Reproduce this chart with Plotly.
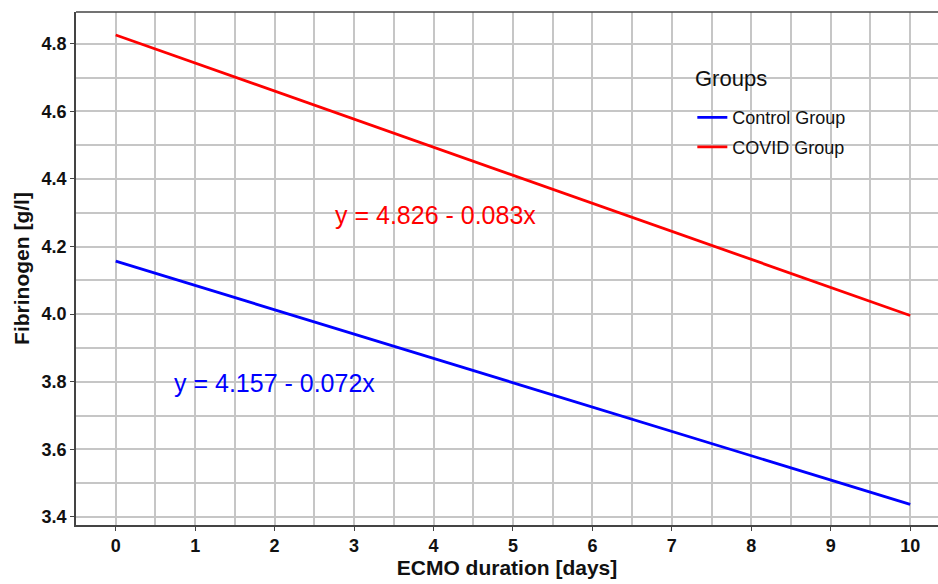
import plotly.graph_objects as go

days = [0, 10]
control_vals = [4.157, 3.437]
covid_vals = [4.826, 3.996]
series_names = ["Control Group", "COVID Group"]
legend_title = "Groups"
eq_labels = ["y = 4.157 - 0.072x", "y = 4.826 - 0.083x"]
eq_x = [2.0, 4.02]
eq_y = [3.797, 4.293]
x_ticks = list(range(0, 11))
y_ticks = [3.4, 3.6, 3.8, 4.0, 4.2, 4.4, 4.6, 4.8]

FONT = "Liberation Sans, Arial, sans-serif"
GRID = "#c6c6c6"

fig = go.Figure()
fig.add_trace(go.Scatter(x=days, y=control_vals, mode="lines", name=series_names[0],
                         legendgroup="a",
                         line=dict(color="#0000ff", width=2.8)))
fig.add_trace(go.Scatter(x=days, y=covid_vals, mode="lines", name=series_names[1],
                         legendgroup="b",
                         line=dict(color="#ff0000", width=2.8)))

fig.add_annotation(x=eq_x[0], y=eq_y[0], text=eq_labels[0], showarrow=False,
                   font=dict(family=FONT, size=25, color="#0000ff"))
fig.add_annotation(x=eq_x[1], y=eq_y[1], text=eq_labels[1], showarrow=False,
                   font=dict(family=FONT, size=25, color="#ff0000"))
fig.add_annotation(x=0.716, y=0.871, xref="paper", yref="paper", text=legend_title,
                   showarrow=False, xanchor="left", yanchor="middle",
                   font=dict(family=FONT, size=22, color="#111"))

fig.add_shape(type="line", xref="paper", yref="paper", x0=0, x1=1, y0=1, y1=1,
              line=dict(color="#444", width=1.5))

fig.update_layout(
    width=938, height=584,
    margin=dict(l=76, r=0, t=12, b=59),
    paper_bgcolor="white", plot_bgcolor="white",
    font=dict(family=FONT, color="#111"),
    showlegend=True,
    legend=dict(
        x=0.715, y=0.830, xanchor="left", yanchor="top",
        bgcolor="rgba(0,0,0,0)", font=dict(size=18, color="#111", family=FONT),
        itemwidth=30, tracegroupgap=3, traceorder="grouped",
    ),
    xaxis=dict(
        range=[-0.5, 10.35], tickmode="array", tickvals=x_ticks,
        showgrid=True, gridcolor=GRID, gridwidth=1.5,
        minor=dict(dtick=0.5, tick0=0, showgrid=True, gridcolor=GRID, gridwidth=1.5),
        showline=True, linecolor="#444", linewidth=1.5,
        ticks="outside", ticklen=4, tickcolor="#444",
        tickfont=dict(size=18, color="#111", weight="bold"),
        zeroline=False,
        title=dict(text="ECMO duration [days]", font=dict(size=21, color="#111", weight="bold"), standoff=4),
    ),
    yaxis=dict(
        range=[3.376, 4.894], tickmode="array", tickvals=y_ticks,
        tickformat=".1f",
        showgrid=True, gridcolor=GRID, gridwidth=1.5,
        minor=dict(dtick=0.1, tick0=3.4, showgrid=True, gridcolor=GRID, gridwidth=1.5),
        showline=True, linecolor="#444", linewidth=1.5,
        ticks="outside", ticklen=4, tickcolor="#444",
        tickfont=dict(size=18, color="#111", weight="bold"),
        zeroline=False,
        title=dict(text="Fibrinogen [g/l]", font=dict(size=21, color="#111", weight="bold"), standoff=6),
    ),
)

fig.write_html("out.html")
